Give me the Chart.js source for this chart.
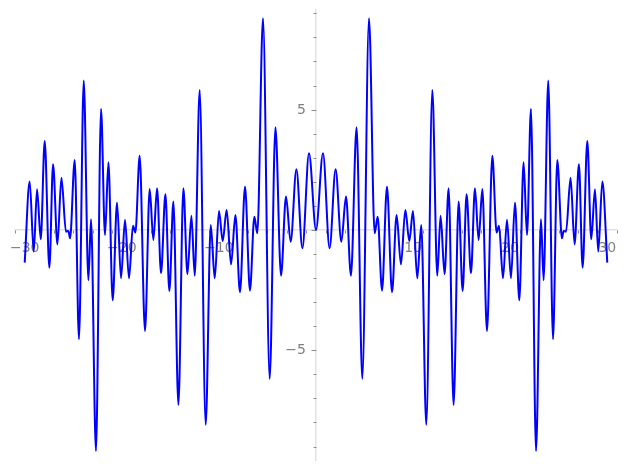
<!DOCTYPE html>
<html lang="en">
<head>
    <meta charset="UTF-8">
    <title>Plot</title>
    <script src="https://cdn.jsdelivr.net/npm/chart.js"></script>
    <style>
        html, body { margin: 0; padding: 0; background: white; }
        #wrap { width: 627px; height: 470px; }
    </style>
</head>
<body>
    <div id="wrap"><canvas id="plot"></canvas></div>
    <script>
        // turning points of the curve
        var xs = [
            -30.00, -29.49, -29.07, -28.73, -28.35, -27.94, -27.46, -27.08, -26.63, -26.22,
            -25.75, -25.50, -25.33, -24.85, -24.41, -23.92, -23.44, -23.17, -22.66, -22.14,
            -21.73, -21.38, -20.94, -20.49, -20.08, -19.67, -19.26, -18.85, -18.60, -18.16,
            -17.61, -17.13, -16.75, -16.37, -15.96, -15.51, -15.10, -14.69, -14.17, -13.66,
            -13.24, -12.83, -12.49, -11.98, -11.36, -10.84, -10.43, -9.99, -9.61, -9.20,
            -8.75, -8.30, -7.83, -7.31, -6.80, -6.35, -6.04, -5.46, -4.77, -4.18,
            -3.60, -3.09, -2.61, -2.02, -1.40, -0.72,
            0.00,
            0.72, 1.40, 2.02, 2.61, 3.09, 3.60,
            4.18, 4.77, 5.46, 6.04, 6.35, 6.80, 7.31, 7.83, 8.30, 8.75,
            9.20, 9.61, 9.99, 10.43, 10.84, 11.36, 11.98, 12.49, 12.83, 13.24,
            13.66, 14.17, 14.69, 15.10, 15.51, 15.96, 16.37, 16.75, 17.13, 17.61,
            18.16, 18.60, 18.85, 19.26, 19.67, 20.08, 20.49, 20.94, 21.38, 21.73,
            22.14, 22.66, 23.17, 23.44, 23.92, 24.41, 24.85, 25.33, 25.50, 25.75,
            26.22, 26.63, 27.08, 27.46, 27.94, 28.35, 28.73, 29.07, 29.49, 30.00
        ];
        var ys = [
            -1.36, 2.01, -0.90, 1.69, -0.39, 3.70, -1.57, 2.73, -0.60, 2.17,
            -0.07, -0.04, -0.35, 2.91, -4.54, 6.21, -2.09, 0.44, -9.19, 5.03,
            -0.21, 2.81, -2.92, 1.13, -2.01, 0.42, -2.01, 0.17, -0.11, 3.08,
            -4.20, 1.70, -0.42, 1.73, -1.80, 1.48, -2.54, 1.18, -7.27, 1.73,
            -1.84, 0.59, -1.90, 5.82, -8.10, 0.21, -2.01, 0.79, -0.46, 0.83,
            -1.43, 0.62, -2.59, 1.80, -2.52, 0.55, -0.14, 8.80, -6.19, 4.27,
            -1.90, 1.39, -0.49, 2.52, -0.76, 3.19,
            0.00,
            3.19, -0.76, 2.52, -0.49, 1.39, -1.90,
            4.27, -6.19, 8.80, -0.14, 0.55, -2.52, 1.80, -2.59, 0.62, -1.43,
            0.83, -0.46, 0.79, -2.01, 0.21, -8.10, 5.82, -1.90, 0.59, -1.84,
            1.73, -7.27, 1.18, -2.54, 1.48, -1.80, 1.73, -0.42, 1.70, -4.20,
            3.08, -0.11, 0.17, -2.01, 0.42, -2.01, 1.13, -2.92, 2.81, -0.21,
            5.03, -9.19, 0.44, -2.09, 6.21, -4.54, 2.91, -0.35, -0.04, -0.07,
            2.17, -0.60, 2.73, -1.57, 3.70, -0.39, 1.69, -0.90, 2.01, -1.36
        ];
        var xTickLabels = [-30, -20, -10, 10, 20, 30];
        var yTickLabels = [-5, 5];

        var points = xs.map(function (x, i) { return { x: x, y: ys[i] }; });

        function minusSign(v) {
            return v < 0 ? '\u2212' + Math.abs(v) : String(v);
        }

        var axisGray = '#e3e3e3';
        var tickGray = '#8c8c8c';
        var labelGray = '#808080';

        // matplotlib-like ticks and labels on the centred axes
        var centerAxes = {
            id: 'centerAxes',
            beforeDatasetsDraw: function (chart) {
                var ctx = chart.ctx;
                var sx = chart.scales.x, sy = chart.scales.y;
                var ox = Math.round(sx.getPixelForValue(0)) + 0.5;
                var oy = Math.round(sy.getPixelForValue(0)) + 0.5;
                ctx.save();
                ctx.strokeStyle = tickGray;
                ctx.lineWidth = 1;
                ctx.beginPath();
                sx.ticks.forEach(function (t) {
                    var px = Math.round(sx.getPixelForValue(t.value)) + 0.5;
                    var len = t.value % 10 === 0 ? 5 : 3;
                    ctx.moveTo(px, oy);
                    ctx.lineTo(px, oy + len);
                });
                sy.ticks.forEach(function (t) {
                    var py = Math.round(sy.getPixelForValue(t.value)) + 0.5;
                    var len = t.value % 5 === 0 ? 5 : 3;
                    ctx.moveTo(ox, py);
                    ctx.lineTo(ox - len, py);
                });
                ctx.stroke();

                ctx.fillStyle = labelGray;
                ctx.font = '14px "DejaVu Sans"';
                ctx.textBaseline = 'alphabetic';
                ctx.textAlign = 'center';
                xTickLabels.forEach(function (v) {
                    ctx.fillText(minusSign(v), sx.getPixelForValue(v), oy + 21.5);
                });
                ctx.textAlign = 'right';
                yTickLabels.forEach(function (v) {
                    ctx.fillText(minusSign(v), ox - 10.5, sy.getPixelForValue(v) + 4);
                });
                ctx.restore();
            }
        };

        var plot = new Chart(document.getElementById('plot'), {
            type: 'line',
            data: {
                datasets: [{
                    data: points,
                    borderColor: '#0000ff',
                    borderWidth: 2,
                    pointRadius: 0,
                    cubicInterpolationMode: 'monotone',
                    fill: false
                }]
            },
            options: {
                responsive: true,
                maintainAspectRatio: false,
                animation: false,
                layout: { padding: { left: 15, right: 10, top: 10, bottom: 10 } },
                plugins: { legend: { display: false }, tooltip: { enabled: false } },
                scales: {
                    x: {
                        type: 'linear',
                        position: { y: 0 },
                        min: -31,
                        max: 31,
                        border: { display: true, color: axisGray, width: 1.5 },
                        grid: { display: false },
                        ticks: { display: false, stepSize: 2, includeBounds: false, autoSkip: false }
                    },
                    y: {
                        type: 'linear',
                        position: { x: 0 },
                        min: -9.56,
                        max: 9.14,
                        border: { display: true, color: axisGray, width: 1.5 },
                        grid: { display: false },
                        ticks: { display: false, stepSize: 1, includeBounds: false, autoSkip: false }
                    }
                }
            },
            plugins: [centerAxes]
        });
    </script>
</body>
</html>
